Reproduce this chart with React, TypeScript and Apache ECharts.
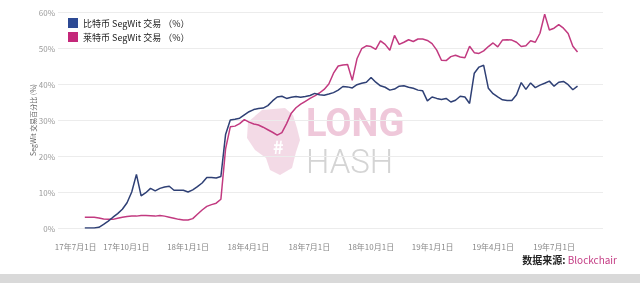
import React, { useEffect, useRef } from "react";
import * as echarts from "echarts";

const START_DATE = "2017-07-31";
const WEEKS = 106;

const btcSegwit = [
  0, 0, 0, 0.2, 1.0, 1.9, 3.0, 4.0, 5.2, 7.0,
  10.0, 14.9, 8.9, 9.8, 11.0, 10.3, 11.0, 11.4, 11.6, 10.5,
  10.5, 10.5, 10.0, 10.6, 11.5, 12.5, 14.0, 14.0, 13.9, 14.3,
  26.0, 30.0, 30.2, 30.5, 31.4, 32.3, 32.9, 33.2, 33.3, 34.0,
  35.3, 36.4, 36.6, 36.0, 36.3, 36.5, 36.3, 36.5, 36.8, 37.4,
  37.0, 36.9, 37.2, 37.6, 38.3, 39.3, 39.2, 38.9, 39.8, 40.2,
  40.5, 41.8, 40.5, 39.5, 39.1, 38.3, 38.6, 39.4, 39.5, 39.1,
  38.8, 38.3, 38.1, 35.3, 36.4, 36.0, 35.7, 36.0, 35.0, 35.5,
  36.6, 36.4, 34.6, 43.0, 44.7, 45.2, 38.8, 37.3, 36.4, 35.6,
  35.4, 35.4, 37.0, 40.4, 38.5, 40.3, 39.0, 39.7, 40.2, 40.8,
  39.4, 40.5, 40.7, 39.8, 38.4, 39.4,
];

const ltcSegwit = [
  3.0, 3.0, 3.0, 2.8, 2.5, 2.4, 2.4, 2.7, 3.0, 3.2,
  3.3, 3.3, 3.5, 3.5, 3.4, 3.3, 3.5, 3.3, 3.0, 2.7,
  2.4, 2.2, 2.2, 2.6, 3.8, 5.0, 6.0, 6.5, 6.9, 8.0,
  22.0, 28.1, 28.3, 29.0, 30.1, 29.4, 28.9, 28.6, 28.0, 27.3,
  26.6, 25.8, 26.5, 29.0, 31.9, 33.4, 34.4, 35.2, 36.0, 36.7,
  37.5, 38.5, 40.0, 43.0, 45.0, 45.3, 45.4, 41.0, 47.0, 49.8,
  50.6, 50.4, 49.6, 52.0, 51.0, 49.4, 53.5, 51.0, 51.6, 52.3,
  51.8, 52.5, 52.5, 52.1, 51.2, 49.4, 46.6, 46.5, 47.6, 48.0,
  47.5, 47.3, 50.5, 48.7, 48.5, 49.2, 50.4, 51.4, 50.3, 52.2,
  52.3, 52.2, 51.6, 50.4, 50.6, 52.0, 51.6, 54.1, 59.4, 55.0,
  55.5, 56.5, 55.5, 54.0, 50.5, 48.9,
];

const tickDates = [
  "2017-07-01", "2017-10-01", "2018-01-01", "2018-04-01", "2018-07-01",
  "2018-10-01", "2019-01-01", "2019-04-01", "2019-07-01",
];

const seriesNames = ["比特币 SegWit 交易 （%）", "莱特币 SegWit 交易 （%）"];

const DAY = 86400000;
const toTs = (s: string) => Date.parse(s + "T00:00:00Z");
const weekDates: number[] = [];
for (let i = 0; i < WEEKS; i++) weekDates.push(toTs(START_DATE) + i * 7 * DAY);
const tickTs = tickDates.map(toTs);

export default function App() {
  const ref = useRef<HTMLDivElement>(null);
  useEffect(() => {
    if (!ref.current) return;
    const chart = echarts.init(ref.current, null, { renderer: "svg" });
    const font = "'Noto Sans CJK SC', 'Noto Sans', sans-serif";
    chart.setOption({
      animation: false,
      textStyle: { fontFamily: font },
      grid: { left: 58, right: 37, top: 12, bottom: 55 },
      legend: {
        orient: "vertical",
        left: 63,
        top: 13,
        icon: "rect",
        itemWidth: 10,
        itemHeight: 10,
        itemGap: 4,
        textStyle: { fontSize: 9, color: "#222", fontFamily: font },
        data: seriesNames,
      },
      xAxis: {
        type: "value",
        min: toTs("2017-06-21"),
        max: toTs("2019-09-12"),
        axisLine: { show: false },
        axisTick: { show: false },
        splitLine: { show: false },
        axisLabel: {
          customValues: tickTs,
          fontSize: 8,
          color: "#888",
          margin: 14,
          hideOverlap: false,
          showMinLabel: true,
          showMaxLabel: true,
          formatter: (v: number) => {
            const d = new Date(v);
            const s = `${String(d.getUTCFullYear()).slice(2)}年${d.getUTCMonth() + 1}月${d.getUTCDate()}日`;
            return v === tickTs[0] ? `{first|${s}}` : s;
          },
          rich: { first: { fontSize: 8, color: "#888", padding: [0, 0, 0, 22] } },
        },
      },
      yAxis: {
        type: "value",
        min: 0,
        max: 60,
        interval: 10,
        name: "SegWit 交易百分比 (%)",
        nameLocation: "middle",
        nameGap: 22,
        nameMoveOverlap: false,
        nameTextStyle: { fontSize: 7, color: "#666" },
        axisLine: { show: false },
        axisTick: { show: false },
        axisLabel: { formatter: "{value}%", fontSize: 8, color: "#999", margin: 3 },
        splitLine: { lineStyle: { color: "#ececec", width: 1 } },
      },
      graphic: [
        {
          type: "polygon",
          z: -1,
          shape: {
            points: [
              [262, 110], [285, 108], [293, 115], [297, 128], [300, 140], [296, 152],
              [292, 168], [280, 175], [270, 170], [266, 158], [255, 150], [247, 138],
              [248, 122],
            ],
          },
          style: { fill: "#f1d4e2", opacity: 0.85 },
        },
        {
          type: "text",
          z: -1,
          left: 273,
          top: 137,
          style: { text: "#", fontSize: 18, fontWeight: "bold", fill: "#ffffff", fontFamily: font },
        },
        {
          type: "text",
          z: -1,
          left: 306,
          top: 104,
          style: {
            text: "{a|LONG}\n{b|HASH}",
            rich: {
              a: { fontSize: 38, fontWeight: "bold", fill: "#efc8da", fontFamily: "Roboto, sans-serif", lineHeight: 40 },
              b: { fontSize: 33, fontWeight: 300, fill: "#d4d4d4", fontFamily: "Roboto, sans-serif", lineHeight: 36 },
            },
          },
        },
        {
          type: "rect",
          shape: { x: 0, y: 274, width: 640, height: 9 },
          style: { fill: "#d9d9d9" },
        },
        {
          type: "text",
          right: 23,
          top: 254,
          style: {
            text: "{a|数据来源: }{b|Blockchair}",
            rich: {
              a: { fontSize: 10, fontWeight: "bold", fill: "#222", fontFamily: font },
              b: { fontSize: 10, fill: "#c43c84", fontFamily: font },
            },
          },
        },
      ],
      series: [
        {
          name: seriesNames[0],
          type: "line",
          showSymbol: false,
          itemStyle: { color: "#2d4a94" },
          lineStyle: { color: "#2f4075", width: 1.5 },
          data: weekDates.map((d, i) => [d, btcSegwit[i]]),
          z: 3,
        },
        {
          name: seriesNames[1],
          type: "line",
          showSymbol: false,
          itemStyle: { color: "#c4287a" },
          lineStyle: { color: "#c23a80", width: 1.5 },
          data: weekDates.map((d, i) => [d, ltcSegwit[i]]),
          z: 2,
        },
      ],
    });
    return () => chart.dispose();
  }, []);
  return <div ref={ref} style={{ position: "fixed", left: 0, top: 0, width: 640, height: 283 }} />;
}
